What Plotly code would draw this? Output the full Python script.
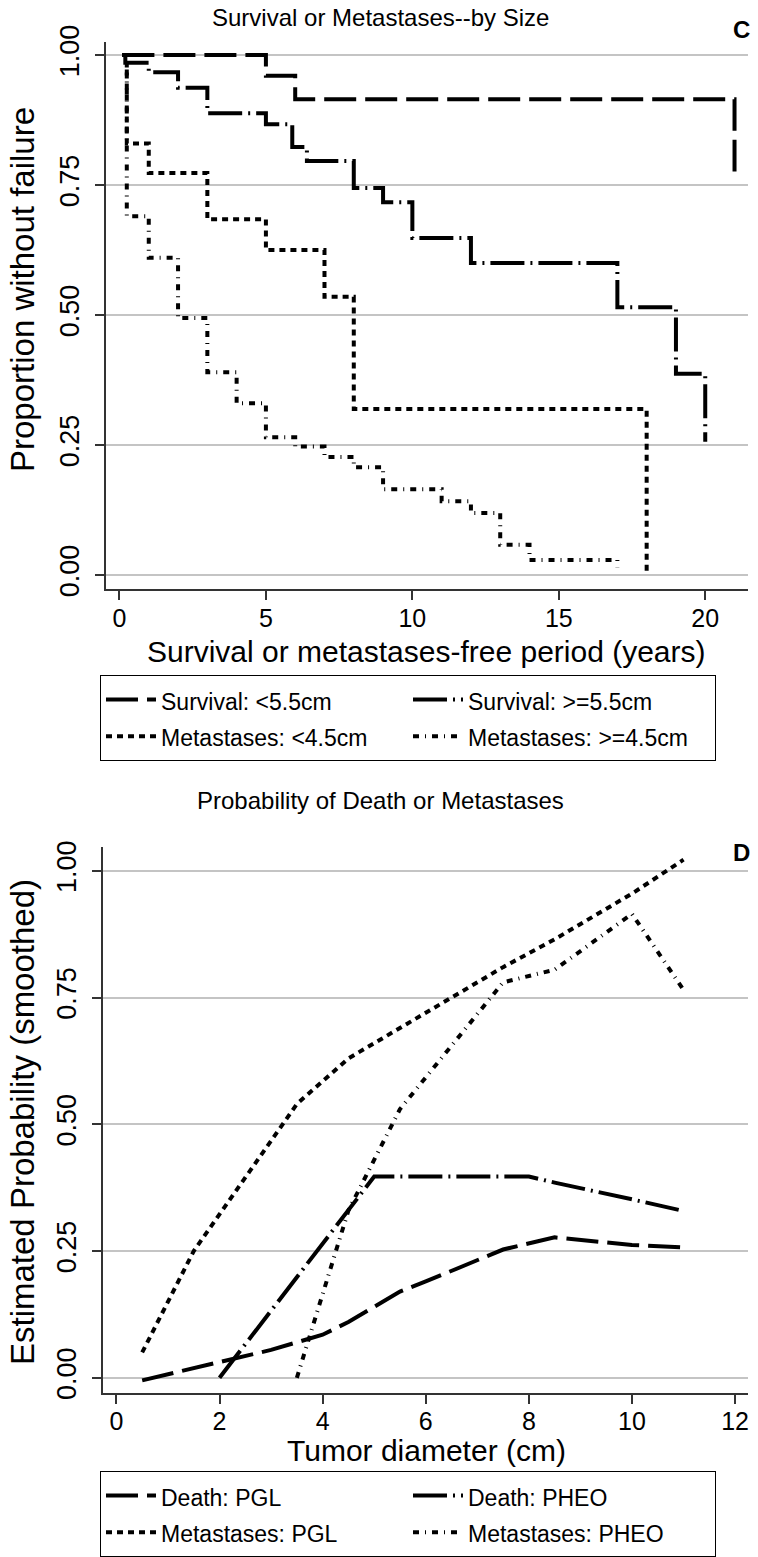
import plotly.graph_objects as go

W, H = 758, 1557

# ---------------- Panel C: Kaplan-Meier style step curves ----------------
surv_small_t = [0.1, 5.0, 6.0, 21.0]
surv_small_s = [1.0, 0.96, 0.915, 0.776]

surv_large_t = [0.1, 0.2, 1.0, 2.0, 3.0, 5.0, 5.9, 6.4, 8.0, 9.0, 10.0, 12.0, 17.0, 19.0, 20.0]
surv_large_s = [1.0, 0.985, 0.967, 0.937, 0.888, 0.867, 0.823, 0.796, 0.744, 0.717, 0.648, 0.60, 0.515, 0.387, 0.256]

met_small_t = [0.1, 0.25, 1.0, 3.0, 5.0, 7.0, 8.0, 18.0]
met_small_s = [1.0, 0.83, 0.773, 0.684, 0.625, 0.535, 0.319, 0.0]

met_large_t = [0.1, 0.25, 1.0, 2.0, 3.0, 4.0, 5.0, 6.0, 7.0, 8.0, 9.0, 11.0, 12.0, 13.0, 14.0, 17.0]
met_large_s = [1.0, 0.69, 0.61, 0.494, 0.39, 0.33, 0.265, 0.247, 0.227, 0.207, 0.165, 0.142, 0.119, 0.058, 0.029, 0.015]

c_names = ["Survival: <5.5cm", "Survival: >=5.5cm", "Metastases: <4.5cm", "Metastases: >=4.5cm"]
c_xticks = [0, 5, 10, 15, 20]
c_yticks = [0.0, 0.25, 0.5, 0.75, 1.0]

# ---------------- Panel D: smoothed probabilities ----------------
death_pgl_x = [0.5, 2.0, 3.0, 4.0, 4.5, 5.5, 6.0, 7.5, 8.5, 10.0, 11.0]
death_pgl_y = [-0.005, 0.03, 0.055, 0.085, 0.11, 0.17, 0.19, 0.253, 0.277, 0.262, 0.257]

death_pheo_x = [2.0, 5.0, 8.0, 8.5, 10.0, 11.0]
death_pheo_y = [0.0, 0.397, 0.397, 0.385, 0.352, 0.329]

met_pgl_x = [0.5, 1.5, 3.5, 4.5, 6.0, 7.5, 8.5, 10.0, 11.0]
met_pgl_y = [0.05, 0.25, 0.54, 0.63, 0.72, 0.81, 0.865, 0.955, 1.022]

met_pheo_x = [3.5, 4.5, 5.5, 7.5, 8.5, 10.0, 11.0]
met_pheo_y = [0.0, 0.33, 0.53, 0.78, 0.805, 0.915, 0.765]

d_names = ["Death: PGL", "Death: PHEO", "Metastases: PGL", "Metastases: PHEO"]
d_xticks = [0, 2, 4, 6, 8, 10, 12]
d_yticks = [0.0, 0.25, 0.5, 0.75, 1.0]

# ---------------- styles ----------------
FONT = "Liberation Sans, Arial, Helvetica, sans-serif"
LW = 4
DASH_LONG = "32px,9px"
DASH_LONGDOT = "34px,6px,2px,6px"
DASH_SHORT = "6px,5px"
DASH_SHORTDOT = "6px,6px,1px,6px"


def px_x(p):
    return p / W


def px_y(p):
    return 1 - p / H


def legend_label(name):
    return '<span style="font-size:23px">' + name + '</span>'


fig = go.Figure()

c_series = [
    (surv_small_t, surv_small_s, DASH_LONG),
    (surv_large_t, surv_large_s, DASH_LONGDOT),
    (met_small_t, met_small_s, DASH_SHORT),
    (met_large_t, met_large_s, DASH_SHORTDOT),
]
for name, (t, s, dash) in zip(c_names, c_series):
    fig.add_trace(go.Scatter(
        x=t, y=s, name=legend_label(name), mode="lines", line_shape="hv",
        line=dict(color="black", width=LW, dash=dash),
        xaxis="x", yaxis="y", legend="legend",
    ))

d_series = [
    (death_pgl_x, death_pgl_y, DASH_LONG),
    (death_pheo_x, death_pheo_y, DASH_LONGDOT),
    (met_pgl_x, met_pgl_y, DASH_SHORT),
    (met_pheo_x, met_pheo_y, DASH_SHORTDOT),
]
for name, (x, y, dash) in zip(d_names, d_series):
    fig.add_trace(go.Scatter(
        x=x, y=y, name=legend_label(name), mode="lines",
        line=dict(color="black", width=LW, dash=dash),
        xaxis="x2", yaxis="y2", legend="legend2",
    ))

axis_common = dict(
    showline=True, linecolor="#333333", linewidth=1.5,
    ticks="outside", ticklen=9, tickwidth=1.5, tickcolor="#333333",
    zeroline=False, automargin=False,
)
xtickfont = dict(family=FONT, size=25, color="black")
ytickfont = dict(family=FONT, size=27, color="black")

legend_common = dict(
    orientation="h", xanchor="left", yanchor="top",
    xref="container", yref="container",
    bgcolor="white", bordercolor="black", borderwidth=1,
    font=dict(family=FONT, size=26, color="black"),
    entrywidth=242, entrywidthmode="pixels", itemwidth=50,
    traceorder="normal",
)

fig.update_layout(
    width=W, height=H,
    margin=dict(l=0, r=0, t=0, b=0, autoexpand=False),
    paper_bgcolor="white", plot_bgcolor="white",
    font=dict(family=FONT, color="black"),
    xaxis=dict(domain=[px_x(106), px_x(748)], range=[-0.46, 21.46],
               tickvals=c_xticks, showgrid=False, anchor="y",
               tickfont=xtickfont, ticklabelstandoff=-3, **axis_common),
    yaxis=dict(domain=[px_y(589), px_y(42)], range=[-0.027, 1.025],
               tickvals=c_yticks, tickformat=".2f", tickangle=-90,
               showgrid=True, gridcolor="#c4c4c4", gridwidth=1.5,
               anchor="x", tickfont=ytickfont, ticklabelstandoff=5, **axis_common),
    xaxis2=dict(domain=[px_x(103), px_x(748)], range=[-0.26, 12.25],
                tickvals=d_xticks, showgrid=False, anchor="y2",
                tickfont=xtickfont, ticklabelstandoff=-4, **axis_common),
    yaxis2=dict(domain=[px_y(1393), px_y(847)], range=[-0.030, 1.047],
                tickvals=d_yticks, tickformat=".2f", tickangle=-90,
                showgrid=True, gridcolor="#c4c4c4", gridwidth=1.5,
                anchor="x2", tickfont=ytickfont, ticklabelstandoff=5, **axis_common),
    legend=dict(x=px_x(100), y=px_y(675), **legend_common),
    legend2=dict(x=px_x(100), y=px_y(1471), **legend_common),
    showlegend=True,
)

annots = [
    dict(text="Survival or Metastases--by Size", x=px_x(380), y=px_y(18), size=24, angle=0),
    dict(text="<b>C</b>", x=px_x(741), y=px_y(30), size=24, angle=0),
    dict(text="Proportion without failure", x=px_x(22), y=px_y(290), size=33, angle=-90),
    dict(text="Survival or metastases-free period (years)", x=px_x(426), y=px_y(651), size=30, angle=0),
    dict(text="Probability of Death or Metastases", x=px_x(380), y=px_y(800), size=24, angle=0),
    dict(text="<b>D</b>", x=px_x(741), y=px_y(852), size=24, angle=0),
    dict(text="Estimated Probability (smoothed)", x=px_x(22), y=px_y(1122), size=33, angle=-90),
    dict(text="Tumor diameter (cm)", x=px_x(426), y=px_y(1450), size=30, angle=0),
]
for a in annots:
    fig.add_annotation(
        text=a["text"], x=a["x"], y=a["y"], xref="paper", yref="paper",
        xanchor="center", yanchor="middle", showarrow=False, textangle=a["angle"],
        font=dict(family=FONT, size=a["size"], color="black"),
    )

fig.write_html("out.html")
